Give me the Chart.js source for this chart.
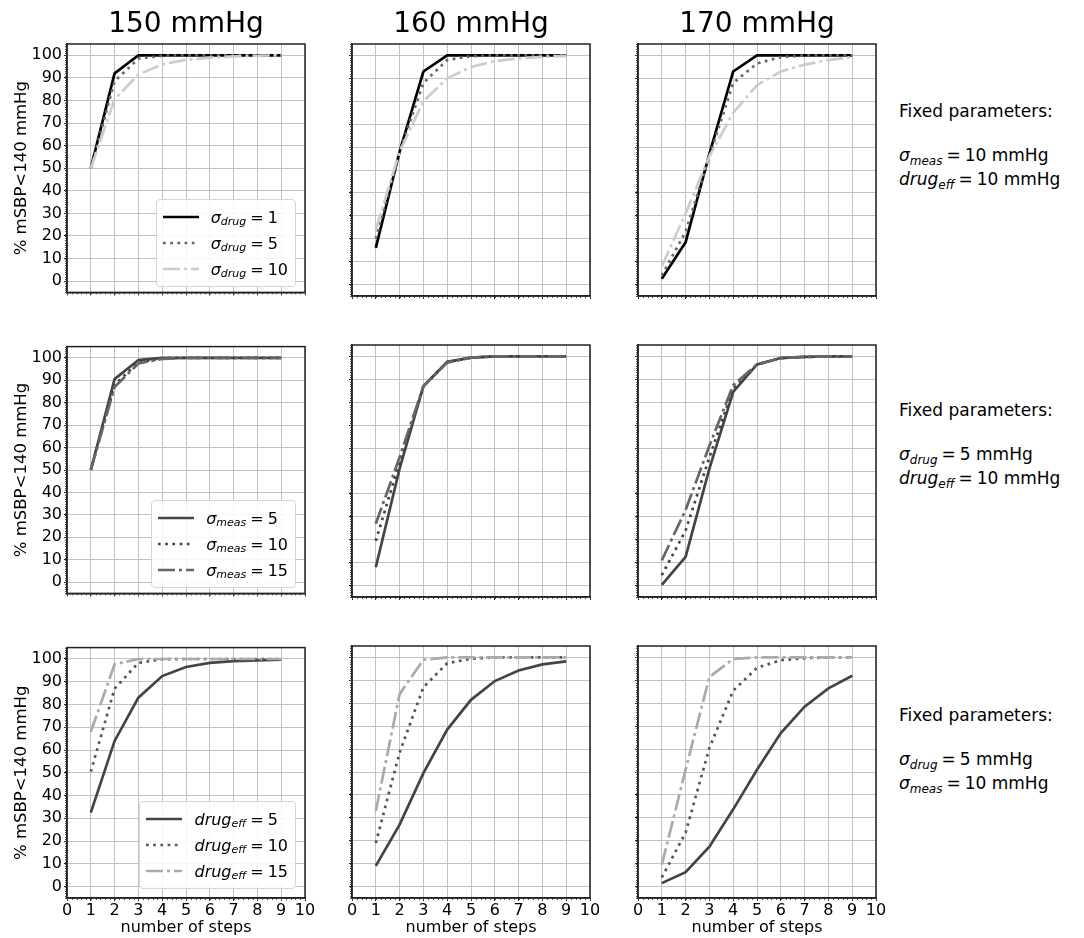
<!DOCTYPE html>
<html>
<head>
<meta charset="utf-8">
<script src="https://cdn.jsdelivr.net/npm/chart.js@4.4.1/dist/chart.umd.min.js"></script>
<style>
  body { margin: 0; background: #fff; font-family: "DejaVu Sans", sans-serif; }
  #wrap { position: relative; width: 1084px; height: 938px; overflow: hidden; }
  #wrap canvas { position: absolute; }
  .legend {
    position: absolute; background: rgba(255,255,255,0.85);
    border: 1px solid #d6d6d6; border-radius: 4px;
    padding: 4px 7px 4px 6px; font-size: 16px; color: #000;
  }
  .legend .item { display: flex; align-items: center; height: 26px; }
  .legend svg { margin-right: 12px; }
  .fixed { position: absolute; left: 899px; font-size: 17px; line-height: 22px; color: #000; white-space: nowrap; }
  .m { font-style: italic; }
  .s { font-style: italic; font-size: 11px; position: relative; top: 4px; }
  .fixed .s { font-size: 12px; }
  .eq { margin: 0 4px; }
</style>
</head>
<body>
<div id="wrap"></div>
<script>
// x positions and axis ticks
const steps = [1, 2, 3, 4, 5, 6, 7, 8, 9];
const xTicks = [0, 1, 2, 3, 4, 5, 6, 7, 8, 9, 10];
const yTicks = [0, 10, 20, 30, 40, 50, 60, 70, 80, 90, 100];
const pressureTitles = ['150 mmHg', '160 mmHg', '170 mmHg'];

// row 1: sigma_drug = 1, 5, 10
const sdDrug1_150  = [50, 92, 100, 100, 100, 100, 100, 100, 100];
const sdDrug5_150  = [50, 88.5, 98.5, 99.8, 100, 100, 100, 100, 100];
const sdDrug10_150 = [50, 80.5, 91.5, 96, 98, 99, 99.5, 99.8, 100];
const sdDrug1_160  = [16, 58, 93, 100, 100, 100, 100, 100, 100];
const sdDrug5_160  = [20, 58, 88, 98, 99.7, 100, 100, 100, 100];
const sdDrug10_160 = [24, 58, 80, 90, 95, 97.5, 98.7, 99.4, 99.8];
const sdDrug1_170  = [2.5, 18.5, 57, 93, 100, 100, 100, 100, 100];
const sdDrug5_170  = [4, 23, 56, 88, 96.5, 99.3, 100, 100, 100];
const sdDrug10_170 = [8, 31, 56, 75, 87, 93, 96, 98, 99.3];

// row 2: sigma_meas = 5, 10, 15
const sdMeas5_150  = [50, 90.5, 99, 100, 100, 100, 100, 100, 100];
const sdMeas10_150 = [50, 88, 98, 99.8, 100, 100, 100, 100, 100];
const sdMeas15_150 = [50, 87, 97.5, 99.5, 100, 100, 100, 100, 100];
const sdMeas5_160  = [8, 51, 87, 97.7, 99.5, 100, 100, 100, 100];
const sdMeas10_160 = [19.5, 54, 87, 97.5, 99.5, 100, 100, 100, 100];
const sdMeas15_160 = [27, 56, 87, 97.3, 99.5, 100, 100, 100, 100];
const sdMeas5_170  = [0.3, 12.5, 51, 84.5, 96.5, 99.3, 99.8, 100, 100];
const sdMeas10_170 = [4.5, 24, 56, 86, 96.5, 99.3, 99.8, 100, 100];
const sdMeas15_170 = [11, 33, 61, 87.5, 96.5, 99.3, 99.8, 100, 100];

// row 3: drug_eff = 5, 10, 15
const eff5_150  = [32.5, 64, 83, 92.5, 96.5, 98.3, 99.1, 99.4, 99.7];
const eff10_150 = [50.5, 87, 98.3, 99.9, 100, 100, 100, 100, 100];
const eff15_150 = [68, 97.7, 100, 100, 100, 100, 100, 100, 100];
const eff5_160  = [9, 27, 49.5, 68.5, 81.5, 89.7, 94.3, 97, 98.3];
const eff10_160 = [19, 58.5, 87, 97.5, 99.4, 100, 100, 100, 100];
const eff15_160 = [33, 84, 99, 100, 100, 100, 100, 100, 100];
const eff5_170  = [1.5, 6.3, 17.4, 33.7, 51, 67, 78.5, 86.5, 92];
const eff10_170 = [4, 23.5, 60.5, 85.5, 95.5, 98.8, 99.7, 100, 100];
const eff15_170 = [9.5, 51, 91.5, 99.4, 100, 100, 100, 100, 100];

const legendValues = [[1, 5, 10], [5, 10, 15], [5, 10, 15]];

const rows = [
  {
    panels: [[sdDrug1_150, sdDrug5_150, sdDrug10_150], [sdDrug1_160, sdDrug5_160, sdDrug10_160], [sdDrug1_170, sdDrug5_170, sdDrug10_170]],
    sym: ['σ', 'drug'],
    colors: ['#000000', '#666666', '#cccccc'],
    fixed: [['σ', 'meas', '10 mmHg'], ['drug', 'eff', '10 mmHg']]
  },
  {
    panels: [[sdMeas5_150, sdMeas10_150, sdMeas15_150], [sdMeas5_160, sdMeas10_160, sdMeas15_160], [sdMeas5_170, sdMeas10_170, sdMeas15_170]],
    sym: ['σ', 'meas'],
    colors: ['#444444', '#444444', '#666666'],
    fixed: [['σ', 'drug', '5 mmHg'], ['drug', 'eff', '10 mmHg']]
  },
  {
    panels: [[eff5_150, eff10_150, eff15_150], [eff5_160, eff10_160, eff15_160], [eff5_170, eff10_170, eff15_170]],
    sym: ['drug', 'eff'],
    colors: ['#444444', '#555555', '#aaaaaa'],
    fixed: [['σ', 'drug', '5 mmHg'], ['σ', 'meas', '10 mmHg']]
  }
];

const dashes = [[], [2.7, 4.5], [17, 4, 3, 4]];
const widths = [2.7, 2.7, 2.7];

// layout of the 3x3 grid
const colLeft = [67, 352, 638];
const rowTop = [44, 345, 646];
const PW = 238, PH = 252;
const axW = [67, 8, 8];
const axH = [8, 8, 40];
const padR = 14;

Chart.defaults.font.family = '"DejaVu Sans", sans-serif';
Chart.defaults.color = '#000';

const frame = {
  id: 'frame',
  afterDraw(chart) {
    const { ctx, chartArea: a, scales: { x, y } } = chart;
    ctx.save();
    ctx.strokeStyle = '#555';
    ctx.lineWidth = 1;
    ctx.beginPath();
    for (let v = -5; v <= 105; v += 1) {
      const py = Math.round(y.getPixelForValue(v)) + 0.5;
      ctx.moveTo(a.left - 2, py); ctx.lineTo(a.left, py);
    }
    for (let k = 0; k <= 50; k++) {
      const px = Math.round(x.getPixelForValue(k / 5)) + 0.5;
      ctx.moveTo(px, a.bottom); ctx.lineTo(px, a.bottom + 2);
    }
    ctx.stroke();
    ctx.strokeStyle = '#222';
    ctx.lineWidth = 1.5;
    ctx.strokeRect(a.left, a.top, a.right - a.left, a.bottom - a.top);
    ctx.restore();
  }
};

const wrap = document.getElementById('wrap');
const math = (m, s) => `<span class="m">${m}</span><span class="s">${s}</span>`;

rows.forEach((row, r) => {
  row.panels.forEach((series, c) => {
    const topSpace = r === 0 ? 44 : 10;
    const cv = document.createElement('canvas');
    cv.width = axW[c] + PW + padR;
    cv.height = topSpace + PH + axH[r];
    cv.style.left = (colLeft[c] - axW[c]) + 'px';
    cv.style.top = (rowTop[r] - topSpace) + 'px';
    wrap.appendChild(cv);

    new Chart(cv, {
      type: 'line',
      data: {
        datasets: series.map((vals, i) => ({
          label: row.sym.join('_') + ' = ' + legendValues[r][i],
          data: vals.map((v, k) => ({ x: steps[k], y: v })),
          borderColor: row.colors[i],
          borderWidth: widths[i],
          borderDash: dashes[i],
          borderCapStyle: 'butt',
          pointRadius: 0,
          tension: 0,
          fill: false,
          order: 3 - i
        }))
      },
      options: {
        responsive: false,
        animation: false,
        devicePixelRatio: 1,
        layout: { padding: { top: r === 0 ? 0 : 10, right: padR, left: 0, bottom: 0 } },
        plugins: {
          legend: { display: false },
          tooltip: { enabled: false },
          title: {
            display: r === 0,
            fullSize: false,
            text: pressureTitles[c],
            color: '#000',
            font: { size: 28, weight: 'normal' },
            padding: { top: 8, bottom: 2.4 }
          }
        },
        scales: {
          x: {
            type: 'linear', min: 0, max: 10,
            afterBuildTicks: ax => { ax.ticks = xTicks.map(v => ({ value: v })); },
            afterFit: ax => { ax.height = axH[r]; },
            ticks: { display: r === 2, autoSkip: false, maxRotation: 0, padding: 0, color: '#000', font: { size: 16 } },
            grid: { color: '#c2c2c2', lineWidth: 1, tickLength: 3, tickColor: '#222' },
            border: { color: '#222', width: 1.5 },
            title: { display: r === 2, text: 'number of steps', color: '#000', font: { size: 16 }, padding: { top: 0, bottom: 1 } }
          },
          y: {
            type: 'linear', min: -5, max: 105,
            afterBuildTicks: ax => { ax.ticks = yTicks.map(v => ({ value: v })); },
            afterFit: ax => { ax.width = axW[c]; },
            ticks: { display: c === 0, autoSkip: false, padding: 2, color: '#000', font: { size: 16 } },
            grid: { color: '#c2c2c2', lineWidth: 1, tickLength: 3, tickColor: '#222' },
            border: { color: '#222', width: 1.5 },
            title: { display: c === 0, text: '% mSBP<140 mmHg', color: '#000', font: { size: 16.5 }, padding: { top: 12, bottom: 0 } }
          }
        }
      },
      plugins: [frame]
    });
  });

  // legend in the first panel of each row
  const lg = document.createElement('div');
  lg.className = 'legend';
  lg.style.right = (1084 - (colLeft[0] + PW - 9)) + 'px';
  lg.style.bottom = (938 - (rowTop[r] + PH - 9)) + 'px';
  lg.innerHTML = legendValues[r].map((val, i) =>
    `<div class="item"><svg width="36" height="10"><line x1="0" y1="5" x2="36" y2="5" stroke="${row.colors[i]}" stroke-width="${widths[i]}" stroke-dasharray="${dashes[i].join(' ') || 'none'}"/></svg>` +
    `${math(row.sym[0], row.sym[1])}<span class="eq">=</span>${val}</div>`
  ).join('');
  wrap.appendChild(lg);

  // fixed parameter notes on the right
  const fx = document.createElement('div');
  fx.className = 'fixed';
  fx.style.top = [100, 399, 704][r] + 'px';
  fx.innerHTML = 'Fixed parameters:<br><br>' +
    row.fixed.map(f => `${math(f[0], f[1])}<span class="eq">=</span>${f[2]}`).join('<br>');
  wrap.appendChild(fx);
});
</script>
</body>
</html>
